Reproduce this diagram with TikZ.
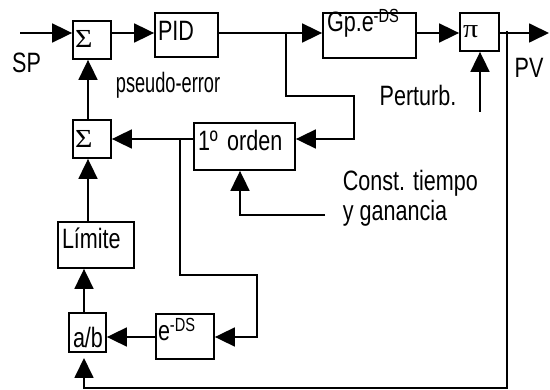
\documentclass[tikz,border=0pt]{standalone}
\usepackage{fontspec}
\setmainfont{Liberation Sans}[FakeStretch=0.77]
\newfontfamily\narrowfont{Liberation Sans}[FakeStretch=0.65]
\newfontfamily\symfont{Liberation Serif}[FakeStretch=1.15]
\usetikzlibrary{arrows.meta}
\newcommand{\supDS}{\raisebox{9pt}{\fontsize{19}{19}\selectfont -DS}}
\begin{document}
\begin{tikzpicture}[x=1pt,y=-1pt,
  line width=1.8pt,
  arr/.style={-{Triangle[length=20pt,width=19pt]}},
  box/.style={draw, line width=1.8pt, inner ysep=0pt, align=left, font=\fontsize{28}{30}\selectfont},
  lbl/.style={inner sep=0pt, font=\fontsize{28}{30}\selectfont},
  symb/.style={font=\fontsize{26}{29}\symfont}]
\useasboundingbox (0,0) rectangle (550,390);
% boxes
\node[box, symb, inner xsep=2pt, text width=34pt, text height=27pt, text depth=11pt] (sum1) at (92,40) {Σ};
\node[box, inner xsep=3pt, text width=57pt, text height=28pt, text depth=16pt] (pid) at (186.5,35) {PID};
\node[box, inner xsep=4pt, text width=85pt, text height=19pt, text depth=26pt] (gp) at (369.5,35.5) {Gp.e\supDS};
\node[box, symb, inner xsep=3pt, text width=33pt, text height=25pt, text depth=13pt] (pi) at (479.5,32) {π};
\node[box, symb, inner xsep=2pt, text width=34pt, text height=28pt, text depth=10pt] (sum2) at (92,139) {Σ};
\node[box, inner xsep=4pt, text width=93pt, text height=28pt, text depth=19pt] (ord) at (244.5,146.5) {1º orden};
\node[box, inner xsep=4pt, text width=68pt, text height=27pt, text depth=19pt] (lim) at (96,245) {Límite};
\node[box, inner xsep=4pt, text width=29pt, text height=35pt, text depth=4pt] (ab) at (87.5,332.5) {a/b};
\node[box, inner xsep=2pt, text width=54pt, text height=27pt, text depth=18pt] (eds) at (185,336.5) {e\supDS};
% labels
\node[lbl] (sp) at (26.5,62.5) {SP};
\node[lbl, anchor=west, font=\fontsize{28}{30}\narrowfont] (pe) at (115,85) {pseudo-error};
\node[lbl] (pv) at (529,68) {PV};
\node[lbl] (pt) at (418,95) {Perturb.};
\node[lbl, anchor=west, align=left] (cte) at (342,198) {Const. tiempo\\y ganancia};
% coordinates
\coordinate (spin) at (20,33);
\coordinate (b1) at (286,33);
\coordinate (b1c) at (354,96);
\coordinate (o1) at (354,139);
\coordinate (out) at (549,33);
\coordinate (fbtop) at (507,31);
\coordinate (fbbot) at (507,388);
\coordinate (abin) at (84,358);
\coordinate (pert) at (480,112);
\coordinate (c88) at (88,0);
\coordinate (c84) at (84,0);
\coordinate (o2) at (180,139);
\coordinate (b2) at (257,275);
\coordinate (e1) at (257,337);
\coordinate (cst) at (325,215);
\coordinate (cu) at (240,215);
% connectors
\draw[arr] (spin) -- (sum1.west |- spin);
\draw[arr] (sum1.east |- spin) -- (pid.west |- spin);
\draw[arr] (pid.east |- spin) -- (gp.west |- spin);
\draw[arr] (b1) |- (b1c) -- (o1) -- (ord.east |- o1);
\draw[arr] (gp.east |- spin) -- (pi.west |- spin);
\draw[arr] (pi.east |- spin) -- (out);
\draw[arr] (fbtop) -- (fbbot) -| (abin);
\draw[arr] (pert) -- (pert |- pi.south);
\draw[arr] (sum2.north -| c88) -- (sum1.south -| c88);
\draw[arr] (ord.west |- o2) -- (sum2.east |- o2);
\draw[arr] (o2) |- (b2) -- (e1) -- (eds.east |- e1);
\draw[arr] (eds.west |- e1) -- (ab.east |- e1);
\draw[arr] (ab.north -| c84) -- (lim.south -| c84);
\draw[arr] (lim.north -| c88) -- (sum2.south -| c88);
\draw[arr] (cst) -- (cu) -- (cu |- ord.south);
\end{tikzpicture}
\end{document}
